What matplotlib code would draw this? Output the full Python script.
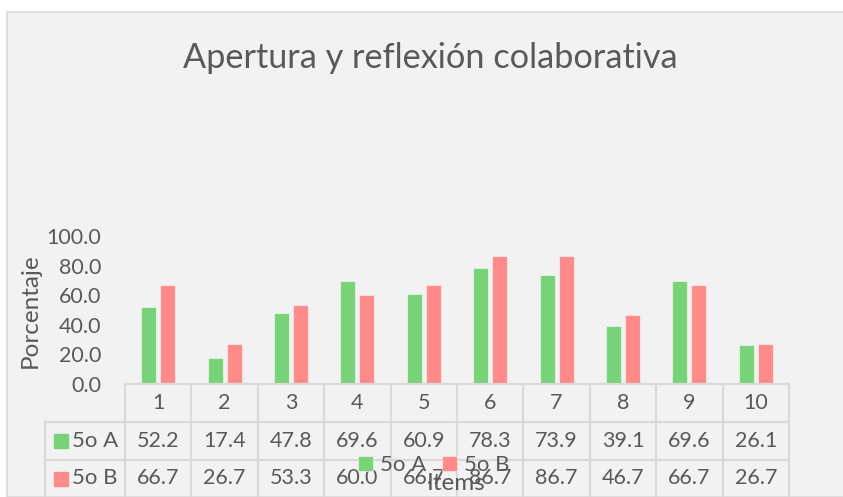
import matplotlib.pyplot as plt
from matplotlib.patches import Rectangle

items = ["1", "2", "3", "4", "5", "6", "7", "8", "9", "10"]
grupo_a = [52.2, 17.4, 47.8, 69.6, 60.9, 78.3, 73.9, 39.1, 69.6, 26.1]
grupo_b = [66.7, 26.7, 53.3, 60.0, 66.7, 86.7, 86.7, 46.7, 66.7, 26.7]
series_names = ["5o A", "5o B"]
y_ticks = [0, 20, 40, 60, 80, 100]

W, H = 843, 497
GREEN = "#78D278"
PINK = "#FF8A8A"
TXT = "#595959"
LINE = "#D9D9D9"
FONT = "Lato"

plt.rcParams["font.family"] = [FONT, "DejaVu Sans"]

fig = plt.figure(figsize=(W / 100, H / 100), dpi=100)
fig.patch.set_facecolor("white")


def fx(px):
    return px / W


def fy(py):
    return 1 - py / H


# fondo gris del área del gráfico
fig.patches.append(Rectangle((fx(7), 0), 1, fy(12), transform=fig.transFigure,
                             facecolor="#F2F2F2", edgecolor=LINE, linewidth=1.2,
                             zorder=-5))

ax = fig.add_axes([fx(125), fy(384), fx(789) - fx(125), fy(236) - fy(384)])
ax.set_facecolor("none")
for s in ax.spines.values():
    s.set_visible(False)

x = list(range(1, len(items) + 1))
off, bw = 0.143, 0.225
bars_a = ax.bar([v - off for v in x], grupo_a, bw, color=GREEN,
                edgecolor=(1, 1, 1, 0.5), linewidth=0.8, label=series_names[0])
bars_b = ax.bar([v + off for v in x], grupo_b, bw, color=PINK,
                edgecolor=(1, 1, 1, 0.5), linewidth=0.8, label=series_names[1])

ax.set_xlim(0.5, len(items) + 0.5)
ax.set_ylim(0, 100)
ax.set_xticks([])
ax.set_yticks(y_ticks)
ax.set_yticklabels([f"{t:.1f}" for t in y_ticks])
ax.tick_params(axis="y", length=0, pad=17, labelsize=15.5, labelcolor=TXT)

# tabla de datos bajo el eje
tr = ax.get_xaxis_transform()
ah = 148.0
r0, r1, r2, r3 = 0, -37.5 / ah, -76 / ah, -120 / ah
left = 0.5 - 80 / 66.4
kw = dict(color=LINE, lw=1.6, transform=tr, clip_on=False, zorder=1)
ax.plot([0.5, 10.5], [r0, r0], **kw)
ax.plot([left, 10.5], [r1, r1], **kw)
ax.plot([left, 10.5], [r2, r2], **kw)
for i in range(len(items) + 1):
    ax.plot([0.5 + i, 0.5 + i], [r0, r3], **kw)
ax.plot([left, left], [r1, r3], **kw)

for i, lab in enumerate(items):
    ax.text(x[i], (r0 + r1) / 2, lab, transform=tr, ha="center", va="center",
            fontsize=15.5, color=TXT)
    ax.text(x[i], (r1 + r2) / 2, f"{grupo_a[i]:.1f}", transform=tr, ha="center",
            va="center", fontsize=15.5, color=TXT)
    ax.text(x[i], (r2 + -113 / ah) / 2, f"{grupo_b[i]:.1f}", transform=tr,
            ha="center", va="center", fontsize=15.5, color=TXT)

key_x = 0.5 - 64 / 66.4
lab_x = 0.5 - 53 / 66.4
for (ya, yb), name, col in [((r1, r2), series_names[0], GREEN),
                            ((r2, -113 / ah), series_names[1], PINK)]:
    yc = (ya + yb) / 2
    ax.plot([key_x], [yc], marker="s", ms=10.5, color=col, transform=tr,
            clip_on=False, linestyle="none")
    ax.text(lab_x, yc, name, transform=tr, ha="left", va="center",
            fontsize=16, color=TXT)

# leyenda inferior (se superpone a la tabla, como en el original)
fig.legend(handles=[bars_a, bars_b], labels=series_names, loc="center",
           bbox_to_anchor=(fx(434), fy(465)), ncol=2, frameon=False,
           fontsize=16, labelcolor=TXT, handlelength=0.65, handleheight=0.65,
           handletextpad=0.35, columnspacing=0.7, borderpad=0)

fig.text(fx(456), fy(484), "Items", ha="center", va="center", fontsize=17.5,
         color=TXT)
fig.text(fx(30), fy(311), "Porcentaje", ha="center", va="center",
         rotation=90, fontsize=17.5, color=TXT)
fig.text(fx(430), fy(58), "Apertura y reflexión colaborativa", ha="center",
         va="center", fontsize=24.7, color=TXT)

fig.savefig("out.png", dpi=100, facecolor=fig.get_facecolor())
